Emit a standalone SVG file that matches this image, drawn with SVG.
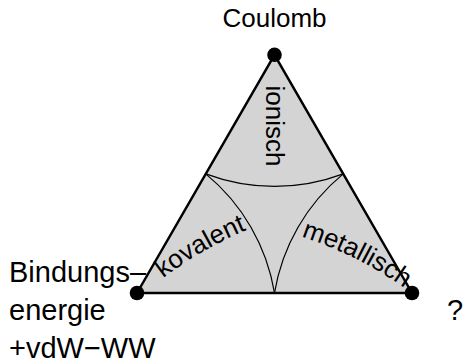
<svg xmlns="http://www.w3.org/2000/svg" xmlns:xlink="http://www.w3.org/1999/xlink" width="466" height="364" viewBox="0 0 466 364">
<style>
text{font-family:"Liberation Sans",Arial,sans-serif;font-size:26px;fill:#000}
.big{font-size:29px}
.edge{fill:#d4d4d4;stroke:#000;stroke-width:2.5;stroke-linejoin:round}
.arc{fill:none;stroke:#000;stroke-width:1.2}
.dot{fill:#000}
</style>
<defs>
<path id="pk" d="M 161.7 279.3 A 378 378 0 0 1 248.3 229.3"/>
<path id="pm" d="M 301.7 236.7 A 378 378 0 0 1 404 287.7"/>
</defs>
<g id="triangle">
<path class="edge" d="M 274.5 54.8 L 412 293 L 137 293 Z"/>
</g>
<g id="connectors">
<path class="arc" d="M 205.75 173.9 A 195 195 0 0 0 343.25 173.9"/>
<path class="arc" d="M 205.75 173.9 A 195 195 0 0 1 274.5 293"/>
<path class="arc" d="M 274.5 293 A 195 195 0 0 1 343.25 173.9"/>
</g>
<g id="node-coulomb">
<circle class="dot" cx="274.5" cy="54.8" r="7.3"/>
<text x="274.5" y="27" text-anchor="middle">Coulomb</text>
</g>
<g id="node-bindung">
<circle class="dot" cx="137" cy="293" r="7.3"/>
<text class="big" x="9" y="282">Bindungs–</text>
<text class="big" x="9" y="320">energie</text>
<text class="big" x="9" y="358">+vdW−WW</text>
</g>
<g id="node-unknown">
<circle class="dot" cx="412" cy="293" r="7.3"/>
<text class="big" x="447" y="320">?</text>
</g>
<g id="label-ionisch">
<text transform="translate(265.5 126) rotate(90)" text-anchor="middle">ionisch</text>
</g>
<g id="label-kovalent">
<text><textPath xlink:href="#pk" href="#pk" startOffset="50%" text-anchor="middle">kovalent</textPath></text>
</g>
<g id="label-metallisch">
<text><textPath xlink:href="#pm" href="#pm" startOffset="50%" text-anchor="middle">metallisch</textPath></text>
</g>
</svg>
